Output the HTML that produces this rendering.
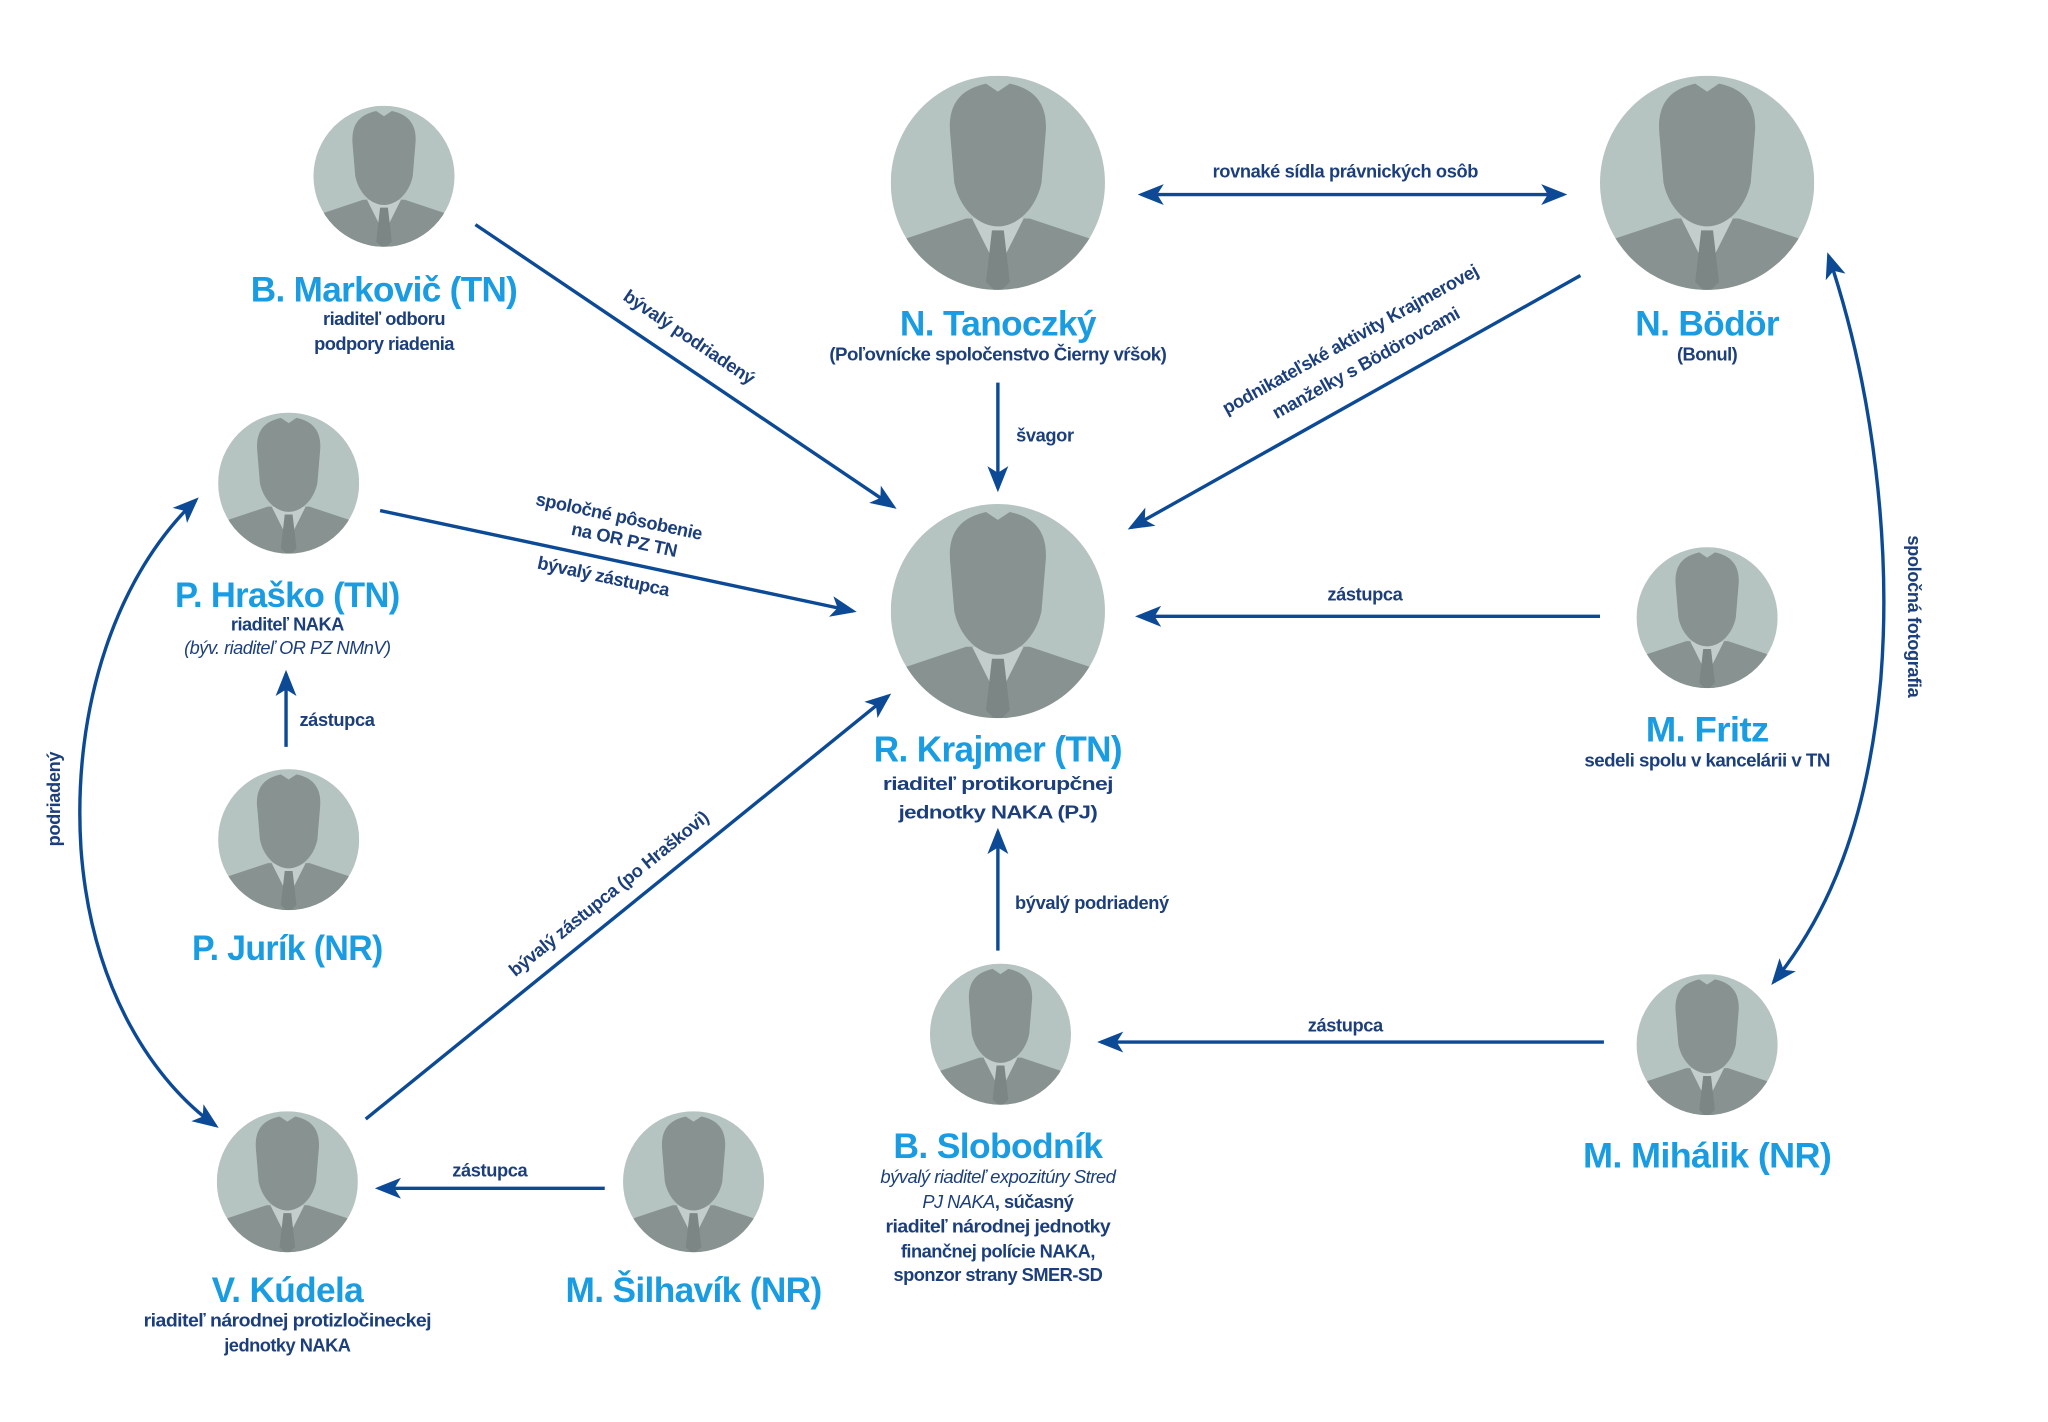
<!DOCTYPE html>
<html><head><meta charset="utf-8"><style>
html,body{margin:0;padding:0;background:#fff;}
svg{display:block}
.n{font-family:"Liberation Sans Narrow","Liberation Sans",sans-serif;font-weight:bold;fill:#1a9ce2;text-anchor:middle;letter-spacing:-0.5px;}
.s{font-family:"Liberation Sans Narrow","Liberation Sans",sans-serif;font-weight:bold;fill:#1c3f7c;text-anchor:middle;font-size:14px;letter-spacing:-0.4px;}
.i{font-style:italic;font-weight:normal;}
.l{font-family:"Liberation Sans Narrow","Liberation Sans",sans-serif;font-weight:bold;fill:#1c3f7c;text-anchor:middle;font-size:14px;letter-spacing:-0.3px;}
.a{stroke:#0d4a96;stroke-width:2.6;fill:none;}
</style></head><body>
<svg width="2048" height="1422" viewBox="0 0 1568 1089" preserveAspectRatio="none" xmlns="http://www.w3.org/2000/svg">
<defs>
<clipPath id="cc"><circle cx="0" cy="0" r="54"/></clipPath>
<symbol id="p" viewBox="-54 -54 108 108">
<circle r="54" fill="#b5c4c1"/>
<g clip-path="url(#cc)">
<path d="M-52,30 L-16,18 L16,18 L52,30 L60,60 L-60,60 Z" fill="#889391"/>
<rect x="-11" y="4" width="22" height="18" fill="#889391"/>
<path d="M-13,18 L0,44 L13,18 Z" fill="#c3cecc"/>
<path d="M-3,24 L3,24 L6,50 L0,56 L-6,50 Z" fill="#7c8684"/>
<path d="M-24,-24 C-26,-44 -14,-48 -6,-50 L0,-46 L6,-50 C16,-48 26,-42 24,-24 L22,0 C19,14 9,22 0,22 C-9,22 -19,14 -22,0 Z" fill="#889391"/>
</g>
</symbol>
<marker id="m" markerWidth="20" markerHeight="16" refX="17" refY="8" orient="auto" markerUnits="userSpaceOnUse">
<path d="M0,0 L20,8 L0,16 L5,8 Z" fill="#0d4a96"/>
</marker>
<marker id="ms" markerWidth="20" markerHeight="16" refX="3" refY="8" orient="auto" markerUnits="userSpaceOnUse">
<path d="M20,0 L0,8 L20,16 L15,8 Z" fill="#0d4a96"/>
</marker>
</defs>

<line class="a" x1="364" y1="172" x2="684" y2="388" marker-end="url(#m)"/>
<line class="a" x1="874" y1="149" x2="1197" y2="149" marker-start="url(#ms)" marker-end="url(#m)"/>
<line class="a" x1="764" y1="293" x2="764" y2="374" marker-end="url(#m)"/>
<line class="a" x1="1210" y1="211" x2="866" y2="404" marker-end="url(#m)"/>
<line class="a" x1="291" y1="391" x2="653" y2="468" marker-end="url(#m)"/>
<line class="a" x1="1225" y1="472" x2="872" y2="472" marker-end="url(#m)"/>
<line class="a" x1="219" y1="572" x2="219" y2="516" marker-end="url(#m)"/>
<line class="a" x1="280" y1="857" x2="680" y2="533" marker-end="url(#m)"/>
<line class="a" x1="764" y1="728" x2="764" y2="637" marker-end="url(#m)"/>
<line class="a" x1="1228" y1="798" x2="843" y2="798" marker-end="url(#m)"/>
<line class="a" x1="463" y1="910" x2="290" y2="910" marker-end="url(#m)"/>
<path class="a" d="M150,383 C90,440 55,540 62,650 C70,760 120,830 165,862" marker-start="url(#ms)" marker-end="url(#m)"/>
<path class="a" d="M1400,196 C1435,300 1448,420 1440,520 C1430,630 1400,700 1358,752" marker-start="url(#ms)" marker-end="url(#m)"/>

<text class="l" x="1030" y="136">rovnaké sídla právnických osôb</text>
<text class="l" transform="translate(525,262) rotate(34)">bývalý podriadený</text>
<text class="l" x="800" y="338">švagor</text>
<text class="l" transform="translate(1036,264) rotate(-29)">podnikateľské aktivity Krajmerovej</text>
<text class="l" transform="translate(1048,282) rotate(-29)">manželky s Bödörovcami</text>
<text class="l" transform="translate(473,400) rotate(12)">spoločné pôsobenie</text>
<text class="l" transform="translate(477,418) rotate(12)">na OR PZ TN</text>
<text class="l" transform="translate(461,446) rotate(12)">bývalý zástupca</text>
<text class="l" x="1045" y="460">zástupca</text>
<text class="l" x="258" y="556">zástupca</text>
<text class="l" transform="translate(469,688) rotate(-39)">bývalý zástupca (po Hraškovi)</text>
<text class="l" x="836" y="696">bývalý podriadený</text>
<text class="l" x="1030" y="790">zástupca</text>
<text class="l" x="375" y="901">zástupca</text>
<text class="l" transform="translate(46,612) rotate(-90)">podriadený</text>
<text class="l" transform="translate(1461,472) rotate(90)">spoločná fotografia</text>

<use href="#p" x="240" y="81" width="108" height="108"/>
<use href="#p" x="682" y="58" width="164" height="164"/>
<use href="#p" x="1225" y="58" width="164" height="164"/>
<use href="#p" x="167" y="316" width="108" height="108"/>
<use href="#p" x="682" y="386" width="164" height="164"/>
<use href="#p" x="1253" y="419" width="108" height="108"/>
<use href="#p" x="167" y="589" width="108" height="108"/>
<use href="#p" x="712" y="738" width="108" height="108"/>
<use href="#p" x="1253" y="746" width="108" height="108"/>
<use href="#p" x="166" y="851" width="108" height="108"/>
<use href="#p" x="477" y="851" width="108" height="108"/>

<text class="n" x="294" y="231" font-size="27" textLength="204" lengthAdjust="spacingAndGlyphs">B. Markovič (TN)</text>
<text class="s" x="294" y="249">riaditeľ odboru</text>
<text class="s" x="294" y="268">podpory riadenia</text>

<text class="n" x="764" y="257" font-size="27" textLength="150" lengthAdjust="spacingAndGlyphs">N. Tanoczký</text>
<text class="s" x="764" y="276" textLength="258" lengthAdjust="spacingAndGlyphs">(Poľovnícke spoločenstvo Čierny vŕšok)</text>

<text class="n" x="1307" y="257" font-size="27" textLength="110" lengthAdjust="spacingAndGlyphs">N. Bödör</text>
<text class="s" x="1307" y="276">(Bonul)</text>

<text class="n" x="220" y="465" font-size="27" textLength="172" lengthAdjust="spacingAndGlyphs">P. Hraško (TN)</text>
<text class="s" x="220" y="483">riaditeľ NAKA</text>
<text class="s i" x="220" y="501" textLength="158" lengthAdjust="spacingAndGlyphs">(býv. riaditeľ OR PZ NMnV)</text>

<text class="n" x="220" y="735" font-size="27" textLength="146" lengthAdjust="spacingAndGlyphs">P. Jurík (NR)</text>

<text class="n" x="764" y="583" font-size="28" textLength="190" lengthAdjust="spacingAndGlyphs">R. Krajmer (TN)</text>
<text class="s" x="764" y="605" font-size="17" textLength="176" lengthAdjust="spacingAndGlyphs">riaditeľ protikorupčnej</text>
<text class="s" x="764" y="627" font-size="17" textLength="152" lengthAdjust="spacingAndGlyphs">jednotky NAKA (PJ)</text>

<text class="n" x="1307" y="568" font-size="27" textLength="94" lengthAdjust="spacingAndGlyphs">M. Fritz</text>
<text class="s" x="1307" y="587" textLength="188" lengthAdjust="spacingAndGlyphs">sedeli spolu v kancelárii v TN</text>

<text class="n" x="764" y="887" font-size="27" textLength="160" lengthAdjust="spacingAndGlyphs">B. Slobodník</text>
<text class="s i" x="764" y="906" textLength="180" lengthAdjust="spacingAndGlyphs">bývalý riaditeľ expozitúry Stred</text>
<text class="s" x="764" y="925"><tspan class="i">PJ NAKA</tspan>, súčasný</text>
<text class="s" x="764" y="944" textLength="172" lengthAdjust="spacingAndGlyphs">riaditeľ národnej jednotky</text>
<text class="s" x="764" y="963">finančnej polície NAKA,</text>
<text class="s" x="764" y="981">sponzor strany SMER-SD</text>

<text class="n" x="1307" y="894" font-size="27" textLength="190" lengthAdjust="spacingAndGlyphs">M. Mihálik (NR)</text>

<text class="n" x="220" y="997" font-size="27" textLength="116" lengthAdjust="spacingAndGlyphs">V. Kúdela</text>
<text class="s" x="220" y="1016" textLength="220" lengthAdjust="spacingAndGlyphs">riaditeľ národnej protizločineckej</text>
<text class="s" x="220" y="1035">jednotky NAKA</text>

<text class="n" x="531" y="997" font-size="27" textLength="196" lengthAdjust="spacingAndGlyphs">M. Šilhavík (NR)</text>
</svg>
</body></html>
